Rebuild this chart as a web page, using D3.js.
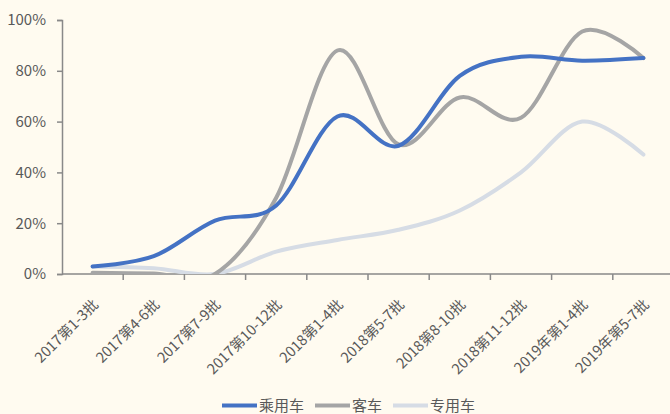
<!DOCTYPE html>
<html>
<head>
<meta charset="utf-8">
<script src="https://cdn.jsdelivr.net/npm/d3@7"></script>
<style>
  body { margin: 0; background: #fffbf0; }
  svg { display: block; }
  text { font-family: "Noto Sans CJK SC", "Noto Sans", sans-serif; fill: #595959; }
</style>
</head>
<body>
<svg id="chart" width="670" height="414"></svg>
<script>
var categories = ["2017第1-3批", "2017第4-6批", "2017第7-9批", "2017第10-12批", "2018第1-4批",
  "2018第5-7批", "2018第8-10批", "2018第11-12批", "2019年第1-4批", "2019年第5-7批"];
var seriesNames = ["乘用车", "客车", "专用车"];
var passenger = [3, 7, 21, 27, 62, 50.5, 78, 85.5, 84, 85];
var bus = [0.5, 0.2, 0, 30, 88, 51, 69.5, 61.5, 95.5, 85];
var special = [3, 2.3, 0, 8.8, 13.4, 17.4, 25, 40, 60, 47];
var yTicks = [0, 20, 40, 60, 80, 100];
var colors = ["#4472c4", "#a5a5a5", "#d6dce5"];

var svg = d3.select("#chart");
svg.append("rect").attr("width", 670).attr("height", 414).attr("fill", "#fffbf0");

var margin = {left: 62, top: 20, right: -4, bottom: 140};
var width = 670 - margin.left - margin.right;
var height = 414 - margin.top - margin.bottom;

var g = svg.append("g")
  .attr("transform", "translate(" + margin.left + "," + margin.top + ")");

// plot area clip, like the spreadsheet does
svg.append("defs").append("clipPath").attr("id", "plot")
  .append("rect").attr("x", 0).attr("y", -4).attr("width", width).attr("height", height + 4);

var x = d3.scaleBand().domain(categories).range([0, width]);
var y = d3.scaleLinear().domain([0, 100]).range([height, 0]);

// y axis
var yAxis = g.append("g")
  .call(d3.axisLeft(y).tickValues(yTicks).tickSize(5).tickFormat(function(d) { return d + "%"; }));
yAxis.selectAll("text").style("font-size", "15px").attr("dx", "-8");
yAxis.select(".domain").attr("stroke", "#898989").attr("stroke-width", 1.5);
yAxis.selectAll(".tick line").attr("stroke", "#898989").attr("stroke-width", 1.5);

// x axis, ticks at band edges
var xAxis = g.append("g").attr("transform", "translate(0," + height + ")");
xAxis.selectAll(".edge")
  .data(categories.slice(1))
  .enter().append("line")
  .attr("x1", function(d) { return x(d); })
  .attr("x2", function(d) { return x(d); })
  .attr("y1", 0).attr("y2", 6)
  .attr("stroke", "#898989").attr("stroke-width", 1.5);
xAxis.selectAll(".lbl")
  .data(categories)
  .enter().append("text")
  .attr("text-anchor", "end")
  .style("font-size", "14.5px")
  .attr("transform", function(d) {
    return "translate(" + (x(d) + x.bandwidth() / 2 + 3) + ",28) rotate(-45)";
  })
  .attr("dy", "0.35em")
  .text(function(d) { return d; });

var line = d3.line()
  .x(function(d, i) { return x(categories[i]) + x.bandwidth() / 2; })
  .y(function(d) { return y(d); })
  .curve(d3.curveCardinal.tension(0));

var allSeries = [passenger, bus, special];
var lines = g.append("g").attr("clip-path", "url(#plot)");
// draw special first so blue sits on top
[2, 1, 0].forEach(function(k) {
  lines.append("path")
    .datum(allSeries[k])
    .attr("d", line)
    .attr("fill", "none")
    .attr("stroke", colors[k])
    .attr("stroke-width", 4)
    .attr("stroke-linecap", "round");
});

xAxis.append("line").attr("x1", 0).attr("x2", width).attr("stroke", "#898989").attr("stroke-width", 1.5);

// legend
var legendX = [222, 315, 393];
var legend = svg.append("g");
seriesNames.forEach(function(name, i) {
  legend.append("line")
    .attr("x1", legendX[i]).attr("x2", legendX[i] + 35)
    .attr("y1", 405.5).attr("y2", 405.5)
    .attr("stroke", colors[i]).attr("stroke-width", 4);
  legend.append("text")
    .attr("x", legendX[i] + 37).attr("y", 406)
    .attr("dy", "0.35em")
    .style("font-size", "15px")
    .text(name);
});
</script>
</body>
</html>
